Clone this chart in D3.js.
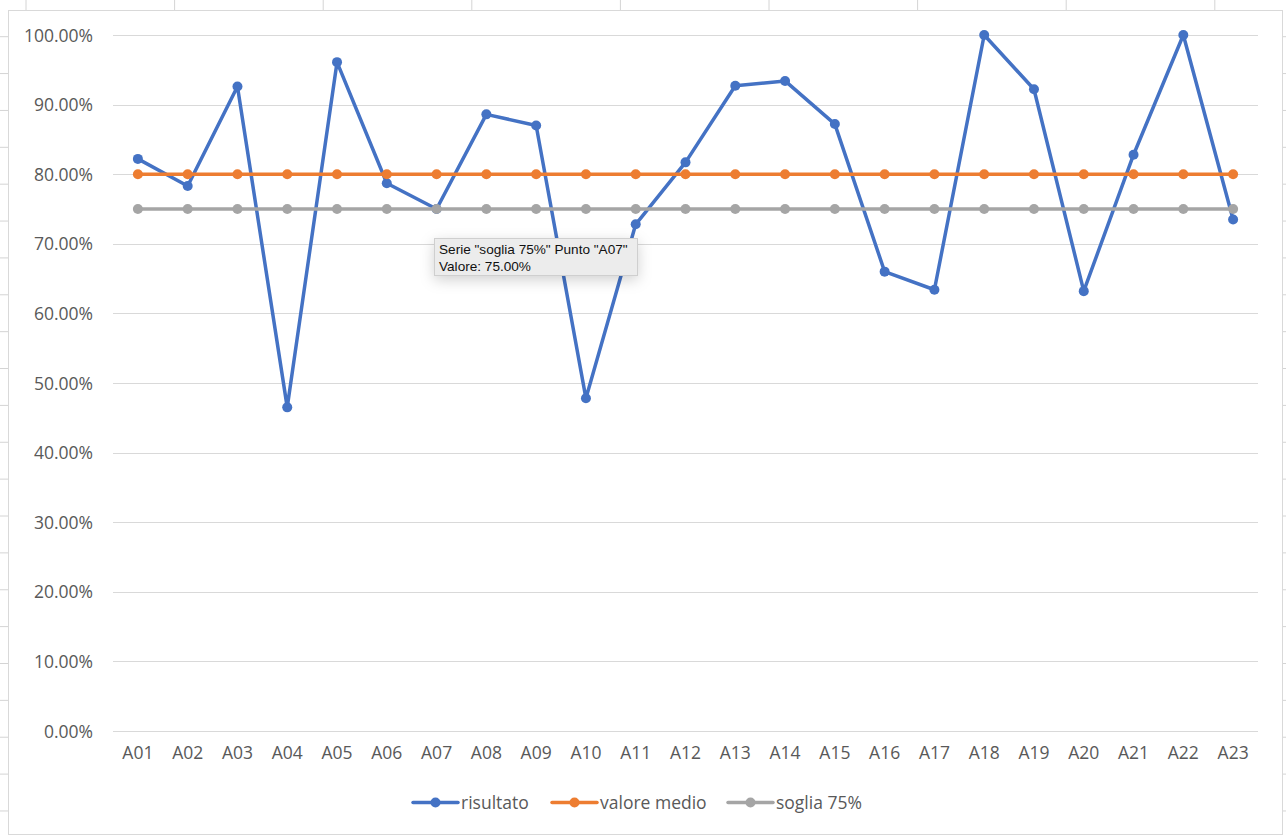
<!DOCTYPE html>
<html>
<head>
<meta charset="utf-8">
<script src="https://cdn.jsdelivr.net/npm/d3@7"></script>
<style>
  html, body { margin: 0; padding: 0; background: #ffffff; }
  svg { display: block; }
</style>
</head>
<body>
<svg id="chart" width="1286" height="837"></svg>
<script>
// ---- data ----
const categories = ["A01","A02","A03","A04","A05","A06","A07","A08","A09","A10","A11","A12","A13","A14","A15","A16","A17","A18","A19","A20","A21","A22","A23"];
const risultato = [0.822,0.783,0.926,0.465,0.961,0.787,0.750,0.886,0.870,0.478,0.728,0.817,0.927,0.934,0.872,0.660,0.634,1.000,0.922,0.632,0.828,1.000,0.735];
const valoreMedio = [0.80,0.80,0.80,0.80,0.80,0.80,0.80,0.80,0.80,0.80,0.80,0.80,0.80,0.80,0.80,0.80,0.80,0.80,0.80,0.80,0.80,0.80,0.80];
const soglia75 = [0.75,0.75,0.75,0.75,0.75,0.75,0.75,0.75,0.75,0.75,0.75,0.75,0.75,0.75,0.75,0.75,0.75,0.75,0.75,0.75,0.75,0.75,0.75];
const seriesNames = ["risultato","valore medio","soglia 75%"];
const seriesColors = ["#4472C4","#ED7D31","#A5A5A5"];
const yTicks = [0,0.1,0.2,0.3,0.4,0.5,0.6,0.7,0.8,0.9,1.0];
const tooltipLines = ['Serie "soglia 75%" Punto "A07"', 'Valore: 75.00%'];

const svg = d3.select("#chart");
const W = 1286, H = 837;
const font = "'Open Sans', sans-serif";

// ---- spreadsheet background (outside the chart frame) ----
const bg = svg.append("g");
const colLines = d3.range(0, 9).map(i => 26 + i * 148.6);
bg.selectAll("line.col").data(colLines).join("line")
  .attr("x1", d => d).attr("x2", d => d).attr("y1", 0).attr("y2", 10)
  .attr("stroke", "#d4d4d4").attr("stroke-width", 1);
const rowLines = d3.range(0, 22).map(i => 36.7 + i * 36.87);
bg.selectAll("line.rowl").data(rowLines).join("line")
  .attr("x1", 0).attr("x2", 8).attr("y1", d => d).attr("y2", d => d)
  .attr("stroke", "#d4d4d4");
bg.selectAll("line.rowr").data(rowLines).join("line")
  .attr("x1", 1283).attr("x2", W).attr("y1", d => d).attr("y2", d => d)
  .attr("stroke", "#d4d4d4");

// chart frame
svg.append("rect").attr("x", 8.5).attr("y", 10.5).attr("width", 1274).attr("height", 824)
  .attr("fill", "#ffffff").attr("stroke", "#d9d9d9").attr("stroke-width", 1);

// ---- scales ----
const x = d3.scaleBand().domain(categories).range([113, 1258]).padding(0);
const xc = d => x(d) + x.bandwidth() / 2;
const y = d3.scaleLinear().domain([0, 1]).range([731, 35]);

// gridlines
svg.append("g").selectAll("line").data(yTicks).join("line")
  .attr("x1", 113).attr("x2", 1258)
  .attr("y1", d => Math.round(y(d)) + 0.5).attr("y2", d => Math.round(y(d)) + 0.5)
  .attr("stroke", "#d9d9d9").attr("stroke-width", 1);

// y axis labels
const yAxis = d3.axisLeft(y).tickValues(yTicks).tickSize(0).tickPadding(0)
  .tickFormat(d => (d * 100).toFixed(2) + "%");
const yg = svg.append("g").attr("transform", "translate(93,0)").call(yAxis);
yg.select(".domain").remove();
yg.selectAll("text").attr("font-family", font).attr("font-size", "17.5px").attr("fill", "#595959")
  .attr("dy", "0.35em");

// x axis labels
const xAxis = d3.axisBottom(x).tickSize(0).tickPadding(0);
const xg = svg.append("g").attr("transform", "translate(0,748)").call(xAxis);
xg.select(".domain").remove();
xg.selectAll("text").attr("font-family", font).attr("font-size", "17.5px").attr("fill", "#595959")
  .attr("dy", "0.6em");

// ---- series ----
const allSeries = [risultato, valoreMedio, soglia75];
const line = d3.line().x((d, i) => xc(categories[i])).y(d => y(d));
allSeries.forEach((vals, si) => {
  const g = svg.append("g");
  g.append("path").datum(vals).attr("d", line)
    .attr("fill", "none").attr("stroke", seriesColors[si])
    .attr("stroke-width", 3.5).attr("stroke-linejoin", "round").attr("stroke-linecap", "round");
  g.selectAll("circle").data(vals).join("circle")
    .attr("cx", (d, i) => xc(categories[i])).attr("cy", d => y(d))
    .attr("r", 5).attr("fill", seriesColors[si]);
});

// ---- legend ----
const legendItems = [
  { x0: 413, name: seriesNames[0], color: seriesColors[0] },
  { x0: 552, name: seriesNames[1], color: seriesColors[1] },
  { x0: 728, name: seriesNames[2], color: seriesColors[2] }
];
const lg = svg.append("g");
legendItems.forEach(it => {
  const ly = 802.5;
  lg.append("line").attr("x1", it.x0).attr("x2", it.x0 + 45).attr("y1", ly).attr("y2", ly)
    .attr("stroke", it.color).attr("stroke-width", 3.5).attr("stroke-linecap", "round");
  lg.append("circle").attr("cx", it.x0 + 22.5).attr("cy", ly).attr("r", 5).attr("fill", it.color);
  lg.append("text").attr("x", it.x0 + 48).attr("y", ly).attr("dy", "0.35em")
    .attr("font-family", font).attr("font-size", "17.5px").attr("fill", "#595959")
    .text(it.name);
});

// ---- tooltip ----
const defs = svg.append("defs");
const f = defs.append("filter").attr("id", "shadow").attr("x", "-30%").attr("y", "-60%").attr("width", "160%").attr("height", "260%");
f.append("feDropShadow").attr("dx", 0).attr("dy", 4).attr("stdDeviation", 7).attr("flood-color", "#000").attr("flood-opacity", 0.18);
const tg = svg.append("g");
tg.append("rect").attr("x", 434.5).attr("y", 238.5).attr("width", 203).attr("height", 37)
  .attr("fill", "#ececec").attr("stroke", "#cfcfcf").attr("stroke-width", 1).attr("filter", "url(#shadow)");
tg.selectAll("text").data(tooltipLines).join("text")
  .attr("x", 439).attr("y", (d, i) => 249.5 + i * 16.5).attr("dy", "0.35em")
  .attr("font-family", "'Liberation Sans', Arial, sans-serif").attr("font-size", "13.6px").attr("fill", "#111")
  .text(d => d);
</script>
</body>
</html>
